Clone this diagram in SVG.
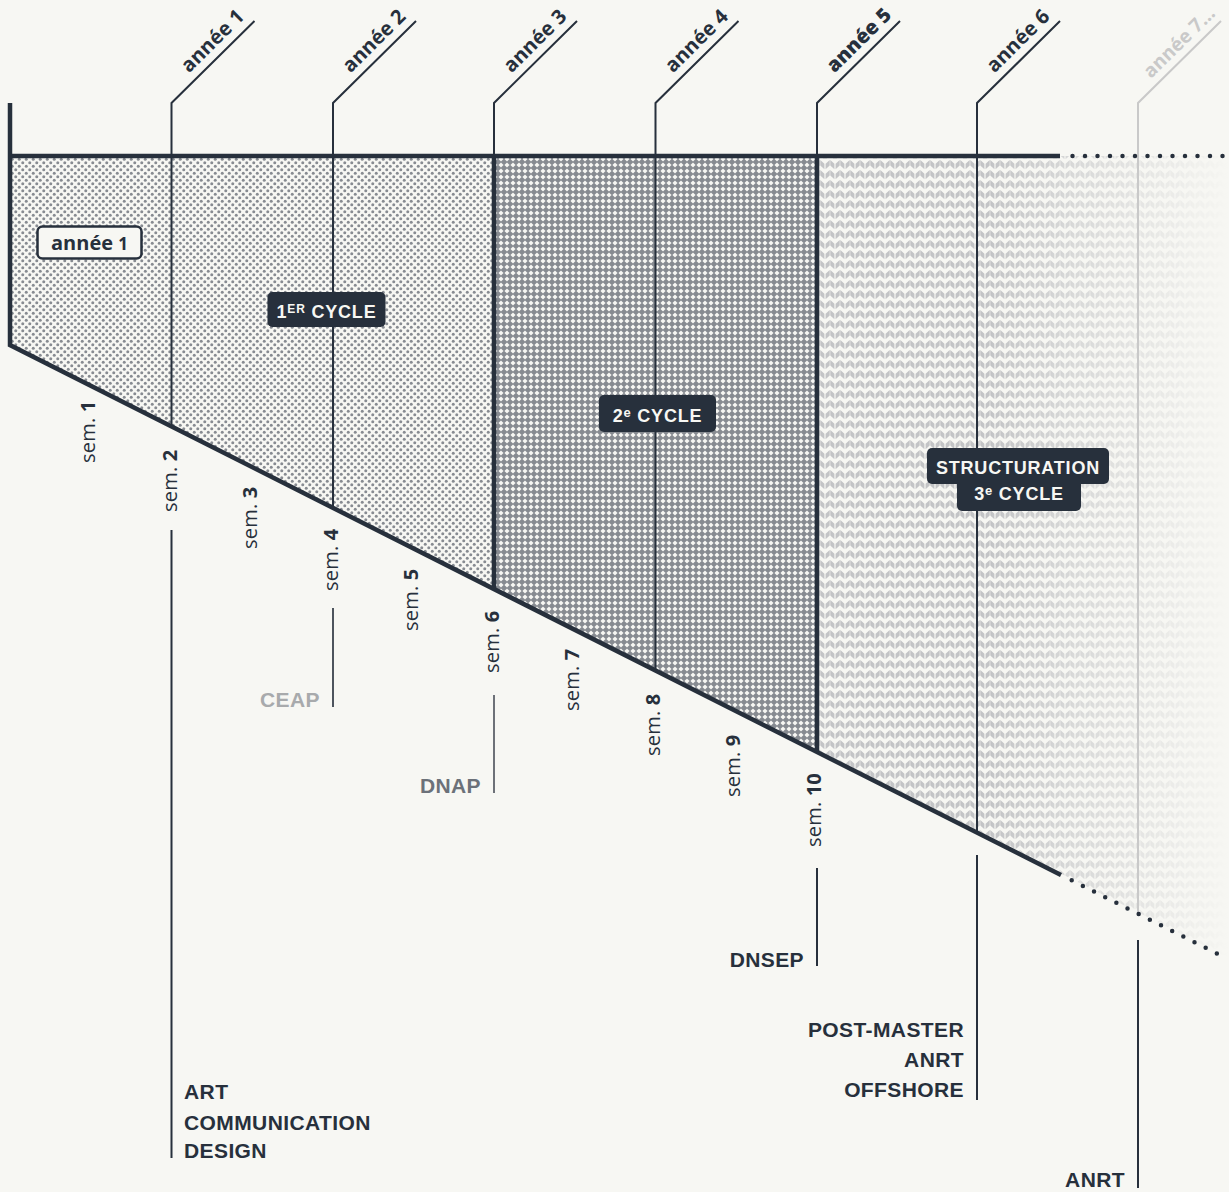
<svg xmlns="http://www.w3.org/2000/svg" width="1229" height="1192" viewBox="0 0 1229 1192">
<style>
.yr{font-family:"Open Sans","DejaVu Sans",sans-serif;font-size:20px;font-weight:700;fill:#27303c;letter-spacing:0.1px}
.sem{font-family:"Open Sans","DejaVu Sans",sans-serif;font-size:20px;font-weight:400;fill:#27303c;letter-spacing:0.2px}
.sem tspan{font-weight:700}
.cap{font-family:"Liberation Sans",Arial,sans-serif;font-weight:700;font-size:18px;fill:#f7f7f3;letter-spacing:0.8px}
.lab{font-family:"Liberation Sans",Arial,sans-serif;font-weight:700;font-size:21px;fill:#27303c;letter-spacing:0.4px}
.thin{stroke:#27303c;stroke-width:2;fill:none}
.thick{stroke:#27303c;stroke-width:4.5;fill:none;stroke-linecap:butt}
.dotted{stroke:#27303c;stroke-width:4.5;fill:none;stroke-linecap:round;stroke-dasharray:0 12.5}
.box{fill:#27303c}
</style>
<defs>
<pattern id="dots" width="7" height="7" patternUnits="userSpaceOnUse">
<circle cx="1.75" cy="1.75" r="1.5" fill="#878b91"/>
<circle cx="5.25" cy="5.25" r="1.5" fill="#878b91"/>
</pattern>
<pattern id="hatch" width="6" height="6" patternUnits="userSpaceOnUse">
<rect width="6" height="6" fill="#878b91"/>
<polygon points="3,0.45 5.55,3 3,5.55 0.45,3" fill="#f7f7f3"/>
</pattern>
<pattern id="chev" width="10" height="10" patternUnits="userSpaceOnUse">
<path d="M0.3,0 L4.4,3.8 L4.4,9.2 L0.3,5.4 Z M9.7,0 L5.6,3.8 L5.6,9.2 L9.7,5.4 Z" fill="#c3c4c6"/>
</pattern>
<linearGradient id="fadeg" gradientUnits="userSpaceOnUse" x1="990" y1="0" x2="1229" y2="0">
<stop offset="0" stop-color="#fff"/>
<stop offset="0.35" stop-color="#999"/>
<stop offset="1" stop-color="#000"/>
</linearGradient>
<mask id="fade" maskUnits="userSpaceOnUse" x="0" y="0" width="1229" height="1192">
<rect x="0" y="0" width="1229" height="1192" fill="url(#fadeg)"/>
</mask>
</defs>
<rect width="1229" height="1192" fill="#f7f7f3"/>

<g id="regions">
<polygon points="10,156 494,156 494,588 10,345" fill="url(#dots)"/>
<polygon points="494,156 817,156 817,751 494,588" fill="url(#hatch)"/>
<polygon points="817,156 1229,156 1229,958 817,751" fill="url(#chev)" mask="url(#fade)"/>
</g>

<g id="connectors">
<path class="thin" d="M171.5,426 V103 L254.5,21"/>
<path class="thin" d="M333,507 V103 L416,21"/>
<path class="thin" d="M494,156 V103 L577,21"/>
<path class="thin" d="M655.5,669 V103 L738.5,21"/>
<path class="thin" d="M817,156 V103 L900,21"/>
<path class="thin" d="M977,831 V103 L1060,21"/>
<path d="M1138,913 V103 L1221,21" stroke="#c9c9c9" stroke-width="2" fill="none"/>
<path class="thick" d="M494,156 V588"/>
<path class="thick" d="M817,156 V751"/>
<path class="thick" d="M10,103 V345 L1061,875"/>
<path class="thick" d="M8,156 H1060"/>
<path class="dotted" d="M1072.5,156 H1225"/>
<path class="dotted" d="M1071.7,880.3 L1218,954"/>
<path class="thin" d="M171.5,530 V1158"/>
<path d="M333,608 V707" stroke="#4d545d" stroke-width="2"/>
<path d="M494,695 V793" stroke="#6d7178" stroke-width="2"/>
<path class="thin" d="M817,868 V966"/>
<path class="thin" d="M977,855 V1100"/>
<path class="thin" d="M1138,940 V1188"/>
</g>

<g id="year-labels">
<text class="yr" transform="translate(189,73.5) rotate(-44.65)">année 1</text>
<text class="yr" transform="translate(350.5,73.5) rotate(-44.65)">année 2</text>
<text class="yr" transform="translate(511.5,73.5) rotate(-44.65)">année 3</text>
<text class="yr" transform="translate(673,73.5) rotate(-44.65)">année 4</text>
<text class="yr" style="font-weight:800" transform="translate(834.5,73.5) rotate(-44.65)">année 5</text>
<text class="yr" transform="translate(994.5,73.5) rotate(-44.65)">année 6</text>
<text class="yr" style="fill:#c9c9c9;font-size:19px" transform="translate(1151,79) rotate(-44.65)">année 7…</text>
</g>

<g id="semesters">
<text class="sem" transform="translate(95,463) rotate(-90)">sem. <tspan>1</tspan></text>
<text class="sem" transform="translate(176.5,512) rotate(-90)">sem. <tspan>2</tspan></text>
<text class="sem" transform="translate(257,549) rotate(-90)">sem. <tspan>3</tspan></text>
<text class="sem" transform="translate(337.5,591) rotate(-90)">sem. <tspan>4</tspan></text>
<text class="sem" transform="translate(418,631) rotate(-90)">sem. <tspan>5</tspan></text>
<text class="sem" transform="translate(498.5,673) rotate(-90)">sem. <tspan>6</tspan></text>
<text class="sem" transform="translate(579,711) rotate(-90)">sem. <tspan>7</tspan></text>
<text class="sem" transform="translate(659.5,756) rotate(-90)">sem. <tspan>8</tspan></text>
<text class="sem" transform="translate(740,797) rotate(-90)">sem. <tspan>9</tspan></text>
<text class="sem" transform="translate(820.5,847) rotate(-90)">sem. <tspan>10</tspan></text>
</g>

<g id="node-annee1">
<rect x="37.5" y="226.5" width="104" height="32" rx="5" fill="#f7f7f3" stroke="#27303c" stroke-width="2.5"/>
<text x="89.5" y="250" text-anchor="middle" style="font-family:'Open Sans','DejaVu Sans',sans-serif;font-size:20px;font-weight:700;fill:#27303c">année <tspan style="font-size:17px">1</tspan></text>
</g>

<g id="node-cycle1">
<rect class="box" x="267.5" y="292" width="118" height="35" rx="5"/>
<text class="cap" x="326.5" y="318" text-anchor="middle">1<tspan style="font-size:12px" dy="-5">ER</tspan><tspan dy="5"> CYCLE</tspan></text>
</g>

<g id="node-cycle2">
<rect class="box" x="599" y="395" width="117" height="37" rx="5"/>
<text class="cap" x="657.5" y="422" text-anchor="middle">2<tspan style="font-size:13px" dy="-5">e</tspan><tspan dy="5"> CYCLE</tspan></text>
</g>

<g id="node-cycle3">
<rect class="box" x="927" y="448" width="182" height="36" rx="5"/>
<rect class="box" x="957" y="476" width="124" height="35" rx="5"/>
<text class="cap" x="1018" y="474" text-anchor="middle">STRUCTURATION</text>
<text class="cap" x="1019" y="500" text-anchor="middle">3<tspan style="font-size:13px" dy="-5">e</tspan><tspan dy="5"> CYCLE</tspan></text>
</g>

<g id="node-art">
<text class="lab" x="184" y="1099">ART</text>
<text class="lab" x="184" y="1130">COMMUNICATION</text>
<text class="lab" x="184" y="1158">DESIGN</text>
</g>
<g id="node-ceap">
<text class="lab" x="320" y="707" text-anchor="end" style="fill:#a8aaac">CEAP</text>
</g>
<g id="node-dnap">
<text class="lab" x="481" y="793" text-anchor="end" style="fill:#6c7179">DNAP</text>
</g>
<g id="node-dnsep">
<text class="lab" x="804" y="967" text-anchor="end">DNSEP</text>
</g>
<g id="node-postmaster">
<text class="lab" x="964" y="1037" text-anchor="end">POST-MASTER</text>
<text class="lab" x="964" y="1067" text-anchor="end">ANRT</text>
<text class="lab" x="964" y="1097" text-anchor="end">OFFSHORE</text>
</g>
<g id="node-anrt">
<text class="lab" x="1125" y="1187" text-anchor="end">ANRT</text>
</g>
</svg>
